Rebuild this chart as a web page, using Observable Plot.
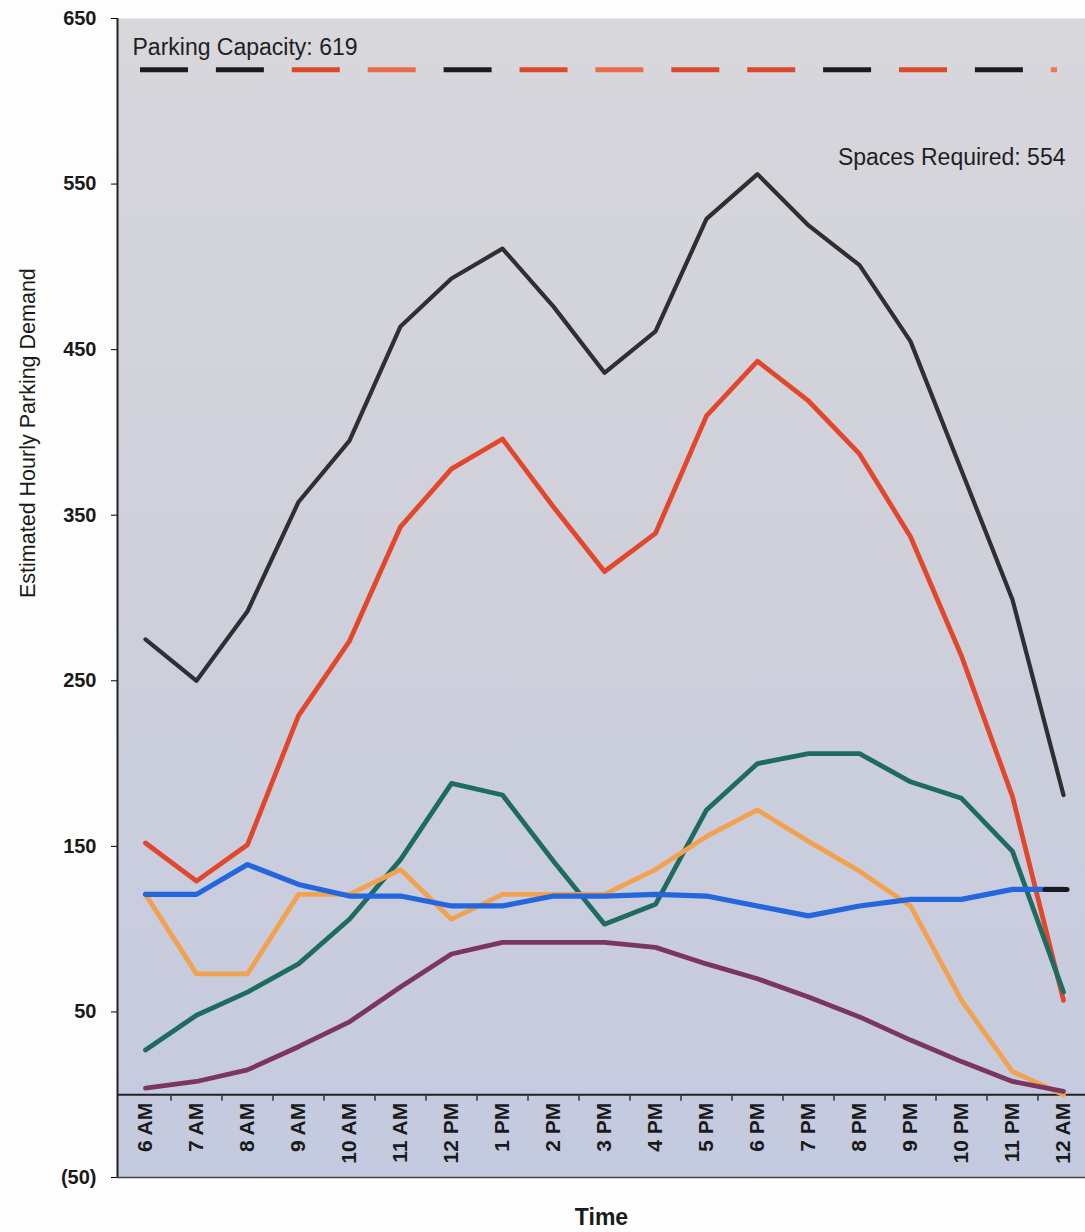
<!DOCTYPE html>
<html>
<head>
<meta charset="utf-8">
<script src="https://cdn.jsdelivr.net/npm/d3@7"></script>
<script src="https://cdn.jsdelivr.net/npm/@observablehq/plot@0.6"></script>
<style>
  html, body { margin: 0; padding: 0; background: #fdfdfd; }
  #chart { width: 1085px; height: 1232px; }
  svg { font-family: "Liberation Sans", Arial, sans-serif; }
</style>
</head>
<body>
<div id="chart"></div>
<script>
// ---- data ----
const hours = ["6 AM","7 AM","8 AM","9 AM","10 AM","11 AM","12 PM","1 PM","2 PM","3 PM","4 PM","5 PM","6 PM","7 PM","8 PM","9 PM","10 PM","11 PM","12 AM"];
const totalDemand  = [275,250,292,358,395,464,493,511,476,436,461,529,556,525,501,455,377,299,181];
const redSeries    = [152,129,151,229,274,343,378,396,355,316,339,410,443,419,387,337,265,180,57];
const tealSeries   = [27,48,62,79,106,142,188,181,141,103,115,172,200,206,206,189,179,147,62];
const orangeSeries = [121,73,73,121,121,136,106,121,121,121,136,156,172,153,135,114,57,14,0];
const blueSeries   = [121,121,139,127,120,120,114,114,120,120,121,120,114,108,114,118,118,124,124];
const purpleSeries = [4,8,15,29,44,65,85,92,92,92,89,79,70,59,47,33,20,8,2];
const parkingCapacity = 619;
const spacesRequired = 554;
const yTicks = [-50, 50, 150, 250, 350, 450, 550, 650];

// ---- styles ----
const seriesDefs = [
  {name: "red",    values: redSeries,    color: "#e2472c", width: 4.8},
  {name: "teal",   values: tealSeries,   color: "#1e6b60", width: 4.8},
  {name: "orange", values: orangeSeries, color: "#f2a24f", width: 4.8},
  {name: "purple", values: purpleSeries, color: "#7b3660", width: 4.8},
  {name: "blue",   values: blueSeries,   color: "#2466dc", width: 5.2},
  {name: "total",  values: totalDemand,  color: "#2e2e33", width: 4.2}
];
const dashColors = ["#1c1c1f","#1c1c1f","#dc4a2c","#ec6a4c","#1c1c1f","#dc4a2c","#ec6a4c","#dc4a2c","#dc4a2c","#1c1c1f","#dc4a2c","#1c1c1f","#ee7a4c"];
const dashLen = 48, dashPeriod = 75.9;

const rows = seriesDefs.flatMap(s => s.values.map((v, i) => ({series: s.name, hour: hours[i], value: v})));
const first = () => hours[0];
const last = () => hours[hours.length - 1];
const secondLast = () => hours[hours.length - 2];

const bgDefs = () => {
  const ns = "http://www.w3.org/2000/svg";
  const defs = document.createElementNS(ns, "defs");
  defs.innerHTML = `<linearGradient id="bgGrad" x1="0" y1="0" x2="0" y2="1">
      <stop offset="0" stop-color="#d8d7dc"/>
      <stop offset="0.45" stop-color="#cfd0da"/>
      <stop offset="1" stop-color="#c4cadf"/>
    </linearGradient>`;
  return defs;
};

const capacityDashes = dashColors.map((c, i) =>
  Plot.ruleY([parkingCapacity], {
    x1: first, x2: last,
    insetLeft: -5, insetRight: 6,
    stroke: c, strokeWidth: 5,
    strokeDasharray: `0 ${(i * dashPeriod).toFixed(1)} ${dashLen} 3000`
  })
);

const chart = Plot.plot({
  width: 1085,
  height: 1232,
  marginLeft: 117,
  marginRight: 0,
  marginTop: 18,
  marginBottom: 55,
  style: {fontFamily: "'Liberation Sans', Arial, sans-serif", background: "transparent", overflow: "visible"},
  x: {type: "point", domain: hours, range: [145, 1063], padding: 0, axis: null},
  y: {domain: [-50, 650], axis: null},
  marks: [
    bgDefs,
    Plot.frame({fill: "url(#bgGrad)", stroke: null}),
    // y axis
    Plot.axisY({
      ticks: yTicks, tickSize: 6, tickPadding: 15,
      tickFormat: d => d < 0 ? `(${Math.abs(d)})` : `${d}`,
      fontSize: 20, fontWeight: "bold", fill: "#1a1a1a",
      label: null
    }),
    Plot.ruleX([hours[0]], {y1: -50, y2: 650, dx: -28, stroke: "#222", strokeWidth: 2}),
    // baseline and bottom frame
    Plot.ruleY([0], {stroke: "#222", strokeWidth: 2}),
    Plot.ruleY([-50], {stroke: "#444", strokeWidth: 1.5}),
    // x category separators
    Plot.ruleX(hours.slice(0, -1), {y1: 0, y2: -4, dx: 25.5, stroke: "#333", strokeWidth: 1.5}),
    // x tick labels
    Plot.text(hours, {
      x: d => d, y: 0, dy: 8, rotate: -90, textAnchor: "end",
      fontSize: 21, fontWeight: "bold", fill: "#1a1a1a"
    }),
    // capacity dashed line
    ...capacityDashes,
    // series lines
    ...seriesDefs.map(s => Plot.line(rows.filter(r => r.series === s.name), {
      x: "hour", y: "value", stroke: s.color, strokeWidth: s.width,
      strokeLinejoin: "round", strokeLinecap: "round"
    })),
    // black end stub on the blue series
    Plot.ruleY([blueSeries[blueSeries.length - 1]], {
      x1: secondLast, x2: last,
      insetLeft: 33, insetRight: -4, stroke: "#1a1a1a", strokeWidth: 5, strokeLinecap: "round"
    }),
    // annotations
    Plot.text([parkingCapacity], {
      x: first, y: d => d, text: d => `Parking Capacity: ${d}`,
      dx: -13, dy: -22, textAnchor: "start", fontSize: 23, fill: "#1f1f1f"
    }),
    Plot.text([spacesRequired], {
      x: last, y: d => d, text: d => `Spaces Required: ${d}`,
      dx: 2, dy: -20, textAnchor: "end", fontSize: 23, fill: "#1f1f1f"
    }),
    // axis titles
    Plot.text(["Estimated Hourly Parking Demand"], {
      frameAnchor: "left", dx: -89, rotate: -90, text: d => d,
      fontSize: 21.5, fill: "#1a1a1a"
    }),
    Plot.text(["Time"], {
      frameAnchor: "bottom", dy: 47, text: d => d,
      fontSize: 23, fontWeight: "bold", fill: "#1a1a1a"
    })
  ]
});
document.getElementById("chart").appendChild(chart);
</script>
</body>
</html>
